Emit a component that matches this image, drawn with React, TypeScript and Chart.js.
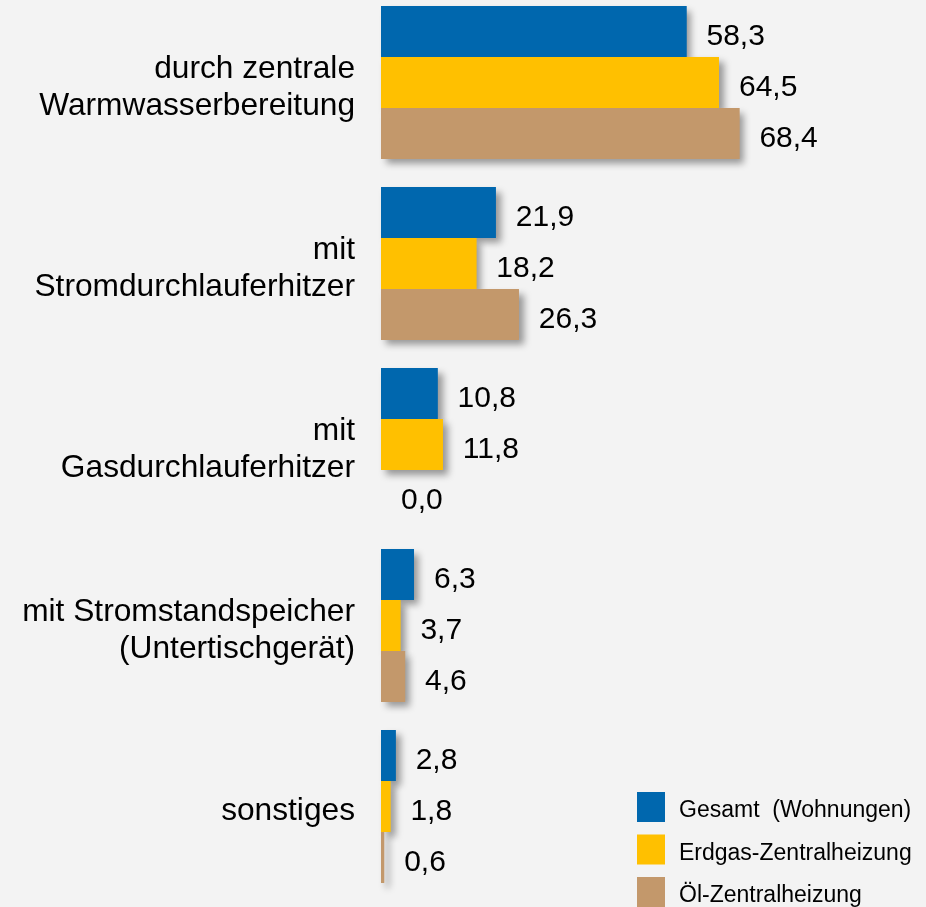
import React, { useEffect, useRef } from "react";
import { Chart, registerables } from "chart.js";

Chart.register(...registerables);

const categories: string[][] = [
  ["durch zentrale", "Warmwasserbereitung"],
  ["mit", "Stromdurchlauferhitzer"],
  ["mit", "Gasdurchlauferhitzer"],
  ["mit Stromstandspeicher", "(Untertischgerät)"],
  ["sonstiges"],
];

const seriesNames = ["Gesamt  (Wohnungen)", "Erdgas-Zentralheizung", "Öl-Zentralheizung"];
const gesamt = [58.3, 21.9, 10.8, 6.3, 2.8];
const erdgas = [64.5, 18.2, 11.8, 3.7, 1.8];
const oel = [68.4, 26.3, 0.0, 4.6, 0.6];
const colors = ["#0067AE", "#FFC000", "#C3986B"];

const FONT = "'Liberation Sans', Arial, Helvetica, sans-serif";

const shadowPlugin = {
  id: "barShadow",
  beforeDatasetsDraw(chart: any) {
    const ctx = chart.ctx;
    ctx.save();
    ctx.shadowColor = "rgba(0,0,0,0.38)";
    ctx.shadowBlur = 7;
    ctx.shadowOffsetX = 5;
    ctx.shadowOffsetY = 5;
    chart.data.datasets.forEach((ds: any, i: number) => {
      const meta = chart.getDatasetMeta(i);
      ctx.fillStyle = ds.backgroundColor;
      meta.data.forEach((el: any) => {
        const p = el.getProps(["x", "y", "base", "height"], true);
        const left = Math.min(p.base, p.x);
        const w = Math.abs(p.x - p.base);
        if (w < 0.5) return;
        ctx.fillRect(left, p.y - p.height / 2, w, p.height);
      });
    });
    ctx.restore();
  },
  afterDatasetsDraw(chart: any) {
    const ctx = chart.ctx;
    ctx.save();
    ctx.font = `30px ${FONT}`;
    ctx.fillStyle = "#000";
    ctx.textAlign = "left";
    ctx.textBaseline = "alphabetic";
    chart.data.datasets.forEach((ds: any, i: number) => {
      const meta = chart.getDatasetMeta(i);
      meta.data.forEach((el: any, j: number) => {
        const p = el.getProps(["x", "y", "base"], true);
        const v = ds.data[j] as number;
        const txt = v.toFixed(1).replace(".", ",");
        ctx.fillText(txt, Math.max(p.x, p.base) + 20, p.y + 13.5);
      });
    });
    ctx.restore();
  },
};

const legendPlugin = {
  id: "customLegend",
  afterDraw(chart: any, _args: any, opts: any) {
    const ctx = chart.ctx;
    ctx.save();
    ctx.font = `23px ${FONT}`;
    ctx.textBaseline = "alphabetic";
    ctx.textAlign = "left";
    chart.data.datasets.forEach((ds: any, i: number) => {
      const top = opts.top + i * opts.pitch;
      ctx.fillStyle = ds.backgroundColor;
      ctx.fillRect(opts.boxX, top, opts.boxW, opts.boxH);
      ctx.fillStyle = "#000";
      ctx.fillText(ds.label, opts.textX, top + 25);
    });
    ctx.restore();
  },
};

export default function App() {
  const ref = useRef<HTMLCanvasElement | null>(null);

  useEffect(() => {
    document.body.style.background = "#F3F3F3";
    document.body.style.margin = "0";
    const canvas = ref.current;
    if (!canvas) return;
    const chart = new Chart(canvas, {
      type: "bar",
      data: {
        labels: categories,
        datasets: [gesamt, erdgas, oel].map((d, i) => ({
          label: seriesNames[i],
          data: d,
          backgroundColor: colors[i],
          borderWidth: 0,
          categoryPercentage: 0.845,
          barPercentage: 1,
        })),
      },
      options: {
        indexAxis: "y",
        animation: false,
        responsive: false,
        devicePixelRatio: 1,
        layout: { padding: { top: 0, bottom: 10, right: 21, left: 0 } },
        plugins: {
          legend: { display: false },
          tooltip: { enabled: false },
          customLegend: { boxX: 637, top: 800, pitch: 42.5, boxW: 28, boxH: 30, textX: 679 },
        } as any,
        scales: {
          x: { display: false, min: 0, max: 100 },
          y: {
            grid: { display: false, drawTicks: false },
            border: { display: false },
            ticks: {
              autoSkip: false,
              padding: 26,
              labelOffset: 5,
              color: "#000",
              font: { family: FONT, size: 31.7, lineHeight: 1.17 },
            },
            afterFit(scale: any) {
              scale.width = 381;
              scale.paddingTop = 0;
              scale.paddingBottom = 0;
            },
          },
        },
      },
      plugins: [shadowPlugin, legendPlugin],
    });
    return () => chart.destroy();
  }, []);

  return (
    <div style={{ position: "absolute", left: 0, top: -8, width: 926, height: 915 }}>
      <canvas ref={ref} width={926} height={915} style={{ display: "block" }} />
    </div>
  );
}
